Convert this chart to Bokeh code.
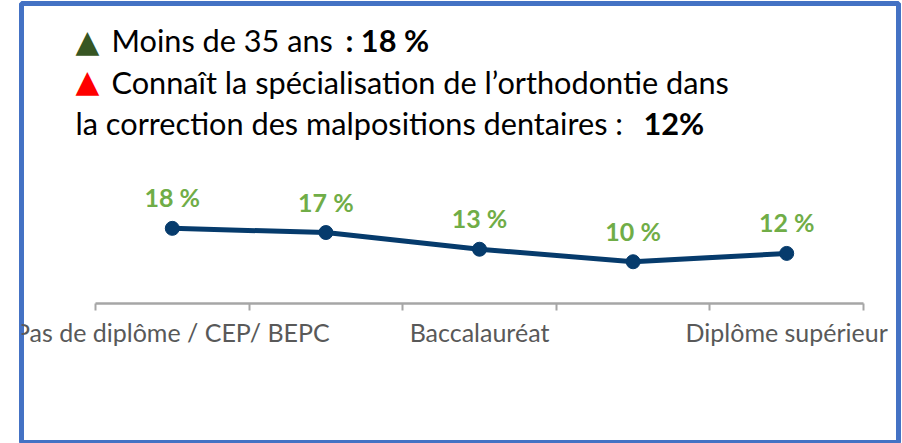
from bokeh.plotting import figure
from bokeh.models import Range1d, LinearAxis, FixedTicker, Label, ColumnDataSource
from bokeh.core.properties import value
from bokeh.embed import file_html
from bokeh.resources import INLINE

# ---- data ----
categories = ["Pas de diplôme / CEP/ BEPC", "", "Baccalauréat", "", "Diplôme supérieur"]
positions = [0.5, 1.5, 2.5, 3.5, 4.5]
values = [18, 17, 13, 10, 12]
value_labels = ["18 %", "17 %", "13 %", "10 %", "12 %"]
shown_ticks = [0.5, 2.5, 4.5]
shown_tick_labels = ["Pas de diplôme / CEP/ BEPC", "Baccalauréat", "Diplôme supérieur"]
boundaries = [0, 1, 2, 3, 4, 5]

W, H = 902, 443
FONT = "Lato"

p = figure(width=W, height=H, output_backend="svg", toolbar_location=None,
           x_axis_type=None, y_axis_type=None,
           x_range=Range1d(-0.4818, 5.2279), y_range=Range1d(-33.53, 71.86),
           min_border_left=21, min_border_right=4, min_border_top=3, min_border_bottom=0)
p.grid.visible = False
p.background_fill_color = "white"
p.border_fill_color = "white"
p.outline_line_color = "#4472C4"
p.outline_line_width = 5

# x axis drawn inside at y = 0
axis = LinearAxis(fixed_location=0, bounds=(0, 5))
axis.ticker = FixedTicker(ticks=shown_ticks, minor_ticks=boundaries)
axis.major_label_overrides = {t: l for t, l in zip(shown_ticks, shown_tick_labels)}
axis.major_tick_line_color = None
axis.major_tick_out = 0
axis.major_tick_in = 0
axis.minor_tick_line_color = "#A6A6A6"
axis.minor_tick_line_width = 2
axis.minor_tick_out = 7
axis.minor_tick_in = 0
axis.axis_line_color = "#A6A6A6"
axis.axis_line_width = 2.5
axis.major_label_text_font = FONT
axis.major_label_text_font_size = "25px"
axis.major_label_text_color = "#595959"
axis.major_label_standoff = 6
p.add_layout(axis, "below")

src = ColumnDataSource(dict(x=positions, y=values, lab=value_labels))
p.line("x", "y", source=src, line_color="#063B6C", line_width=5)
p.scatter("x", "y", source=src, size=14, fill_color="#063B6C", line_color="#063B6C")
p.text("x", "y", text="lab", source=src, text_font=value(FONT), text_font_style="bold",
       text_font_size="25px", text_color="#70AD47", text_align="center",
       text_baseline="alphabetic", y_offset=-31)

# ---- legend-like header text (screen units relative to frame) ----
FL, FB = 21, 443  # frame left / bottom in page px
DY = 10  # baseline correction

def lab(txt, px, py, size="30.7px", bold=False, color="#000000", font=FONT):
    p.add_layout(Label(x=px - FL, y=FB - py + DY, x_units="screen", y_units="screen",
                       text=txt, text_font=font, text_font_size=size,
                       text_font_style="bold" if bold else "normal",
                       text_color=color, text_baseline="alphabetic"))

lab("▲", 75, 50, size="31px", color="#375623", font="DejaVu Sans")
lab("Moins de 35 ans", 111, 50)
lab(": 18 %", 345, 50, bold=True)
lab("▲", 75, 90, size="31px", color="#FF0000", font="DejaVu Sans")
lab("Connaît la spécialisation de l’orthodontie dans", 111, 92)
lab("la correction des malpositions dentaires :", 75, 133)
lab("12%", 643, 133, bold=True)

open("out.html", "w").write(file_html(p, INLINE))
